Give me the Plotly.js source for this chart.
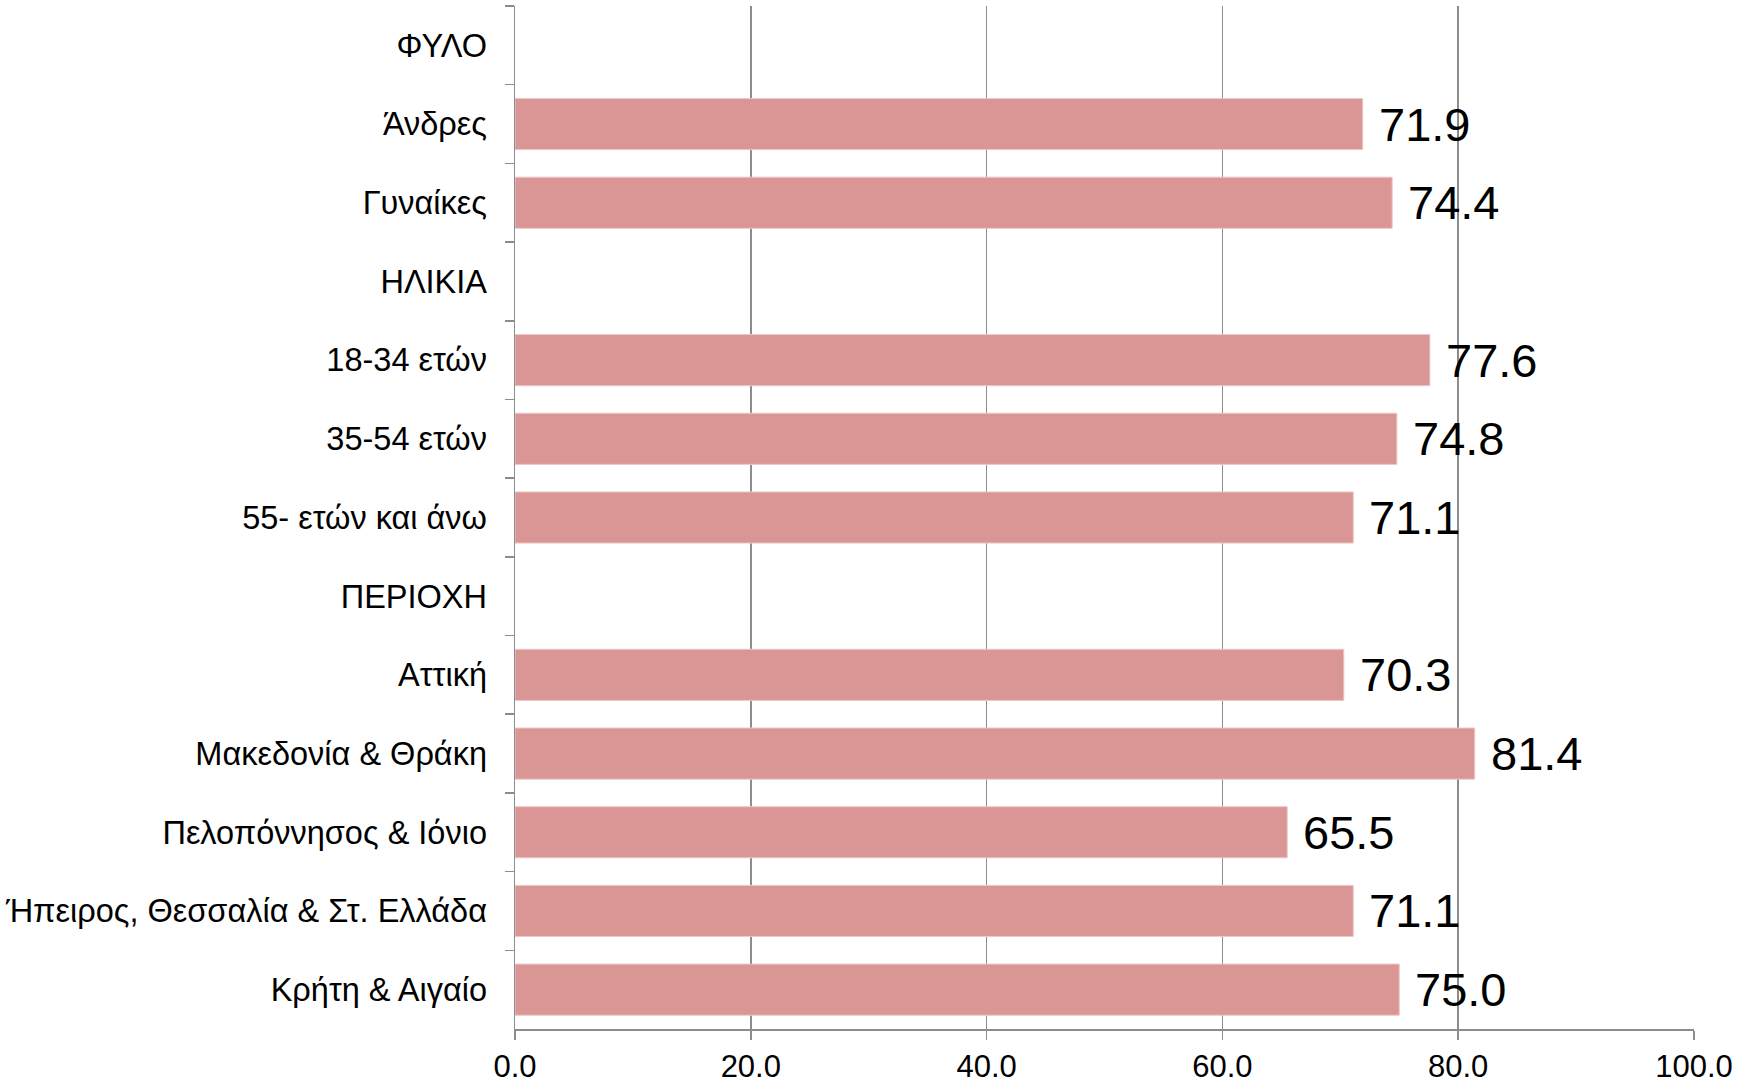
<!DOCTYPE html>
<html>
<head>
<meta charset="utf-8">
<script src="https://cdn.plot.ly/plotly-3.0.1.min.js"></script>
<style>html,body{margin:0;padding:0;background:#fff;}#chart{width:1754px;height:1085px;}</style>
</head>
<body>
<div id="chart"></div>
<script>
const categories = ["ΦΥΛΟ","Άνδρες","Γυναίκες","ΗΛΙΚΙΑ","18-34 ετών","35-54 ετών","55- ετών και άνω","ΠΕΡΙΟΧΗ","Αττική","Μακεδονία & Θράκη","Πελοπόννησος & Ιόνιο","Ήπειρος, Θεσσαλία & Στ. Ελλάδα","Κρήτη & Αιγαίο"];
const values = [null,71.9,74.4,null,77.6,74.8,71.1,null,70.3,81.4,65.5,71.1,75.0];
const xTicks = [0,20,40,60,80,100];
const xTickLabels = ["0.0","20.0","40.0","60.0","80.0","100.0"];

const FONT = "Liberation Sans, Arial, sans-serif";
const annotations = [];
categories.forEach((c,i)=>{
  if (values[i] !== null) {
    annotations.push({x: values[i], y: c, xref:'x', yref:'y', text: values[i].toFixed(1),
      showarrow:false, xanchor:'left', yanchor:'middle', xshift:14,
      font:{family:FONT, size:47, color:'#000'}});
  }
});

const trace = {
  type:'bar', orientation:'h', x: values, y: categories,
  marker:{color:'#D99694', line:{color:'#ECC8C7', width:1}},
  width:0.65, hoverinfo:'none', cliponaxis:false
};

const layout = {
  width:1754, height:1085,
  margin:{l:515, r:60, t:6, b:56},
  paper_bgcolor:'#fff', plot_bgcolor:'#fff',
  showlegend:false,
  font:{family:FONT, color:'#000'},
  xaxis:{
    range:[0,100], tickvals:xTicks, ticktext:xTickLabels,
    showgrid:true, gridcolor:'#8C8C8C', gridwidth:1.5,
    showline:true, linecolor:'#8C8C8C', linewidth:1.5,
    ticks:'outside', ticklen:9, tickcolor:'#8C8C8C', tickwidth:1.5,
    tickfont:{family:FONT, size:31, color:'#000'},
    zeroline:false, fixedrange:true
  },
  yaxis:{
    type:'category', categoryorder:'array', categoryarray:categories,
    autorange:false, range:[categories.length-0.5, -0.5],
    showgrid:false, showline:true, linecolor:'#8C8C8C', linewidth:1.5,
    ticks:'outside', ticklen:9, tickcolor:'#8C8C8C', tickwidth:1.5,
    tickson:'boundaries',
    ticklabelstandoff:20,
    tickfont:{family:FONT, size:32.5, color:'#000'},
    fixedrange:true
  },
  annotations: annotations
};

Plotly.newPlot('chart',[trace],layout,{displayModeBar:false, staticPlot:true});
</script>
</body>
</html>
